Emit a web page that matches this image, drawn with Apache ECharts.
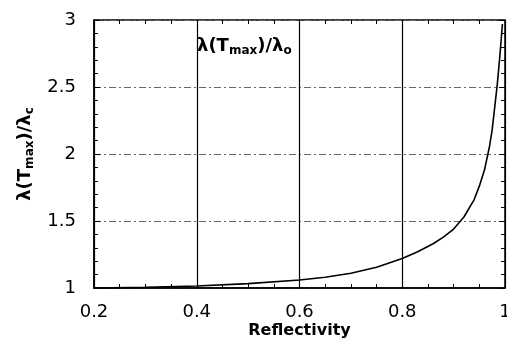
<!DOCTYPE html>
<html>
<head>
<meta charset="utf-8">
<script src="https://cdn.jsdelivr.net/npm/echarts@6/dist/echarts.min.js"></script>
<style>
  html, body { margin: 0; padding: 0; background: #fff; }
  #chart { width: 507px; height: 339px; }
</style>
</head>
<body>
<div id="chart"></div>
<script>
// Reflectivity vs normalized wavelength at maximum temperature
const reflectivity = [0.2, 0.3, 0.4, 0.5, 0.6, 0.65, 0.7, 0.75, 0.8, 0.83, 0.86, 0.88, 0.9, 0.92, 0.94, 0.95, 0.96, 0.97, 0.975, 0.98, 0.985, 0.99, 0.995];
const lambdaRatio = [1.0, 1.005, 1.015, 1.033, 1.06, 1.08, 1.11, 1.155, 1.22, 1.27, 1.33, 1.38, 1.44, 1.53, 1.66, 1.76, 1.88, 2.06, 2.18, 2.35, 2.52, 2.73, 2.97];
const xTicks = [0.2, 0.4, 0.6, 0.8, 1];
const yTicks = [1, 1.5, 2, 2.5, 3];

const chart = echarts.init(document.getElementById("chart"));
const font = "DejaVu Sans, Arial, sans-serif";

const tickLabel = { color: "#000", fontSize: 18, fontFamily: font };
const richName = {
  m: { fontSize: 18, fontWeight: "bold", fontFamily: font, color: "#000", lineHeight: 22 },
  s: { fontSize: 12, fontWeight: "bold", fontFamily: font, color: "#000", padding: [10, 0, 0, 0], lineHeight: 22 }
};

chart.setOption({
  backgroundColor: "#fff",
  animation: false,
  title: {
    text: "{m|λ(T}{s|max}{m|)/λ}{s|o}",
    left: 192,
    top: 30,
    textStyle: { rich: richName }
  },
  grid: {
    left: 94, right: 2, top: 20, bottom: 51,
    outerBoundsMode: "none",
    show: true, borderColor: "#000", borderWidth: 1.5
  },
  xAxis: [
    {
      type: "value",
      min: xTicks[0],
      max: xTicks[xTicks.length - 1],
      interval: 0.2,
      name: "Reflectivity",
      nameLocation: "middle",
      nameGap: 35,
      nameMoveOverlap: false,
      nameTextStyle: { fontSize: 16, fontWeight: "bold", fontFamily: font, color: "#000" },
      axisLine: { lineStyle: { color: "#000", width: 1.5 } },
      axisTick: { show: true, inside: true, length: 6, lineStyle: { color: "#000" } },
      minorTick: { show: true, splitNumber: 4, length: 4, lineStyle: { color: "#000" } },
      axisLabel: Object.assign({ margin: 15, formatter: v => String(+v.toFixed(1)) }, tickLabel),
      splitLine: { show: true, lineStyle: { color: "#000", width: 1.2 } }
    },
    {
      type: "value",
      position: "top",
      min: 0.2, max: 1, interval: 0.2,
      axisLine: { show: false },
      axisTick: { show: true, inside: true, length: 6, lineStyle: { color: "#000" } },
      minorTick: { show: true, splitNumber: 4, length: 4, lineStyle: { color: "#000" } },
      axisLabel: { show: false },
      splitLine: { show: false }
    }
  ],
  yAxis: [
    {
      type: "value",
      min: yTicks[0],
      max: yTicks[yTicks.length - 1],
      interval: 0.5,
      name: "{m|λ(T}{s|max}{m|)/λ}{s|c}",
      nameLocation: "middle",
      nameGap: 58,
      nameMoveOverlap: false,
      nameTextStyle: { rich: richName },
      axisLine: { show: true, lineStyle: { color: "#000", width: 1.5 } },
      axisTick: { show: true, inside: true, length: 6, lineStyle: { color: "#000" } },
      minorTick: { show: true, splitNumber: 5, length: 4, lineStyle: { color: "#000" } },
      axisLabel: Object.assign({ margin: 18, formatter: v => String(+v.toFixed(1)) }, tickLabel),
      splitLine: { show: true, lineStyle: { color: "#666", width: 1, type: [7, 3, 2, 3] } }
    },
    {
      type: "value",
      position: "right",
      min: 1, max: 3, interval: 0.5,
      axisLine: { show: false },
      axisTick: { show: true, inside: true, length: 6, lineStyle: { color: "#000" } },
      minorTick: { show: true, splitNumber: 5, length: 4, lineStyle: { color: "#000" } },
      axisLabel: { show: false },
      splitLine: { show: false }
    }
  ],
  series: [
    {
      type: "line",
      data: reflectivity.map((r, i) => [r, lambdaRatio[i]]),
      smooth: false,
      showSymbol: false,
      lineStyle: { color: "#000", width: 1.6 }
    }
  ]
});
</script>
</body>
</html>
